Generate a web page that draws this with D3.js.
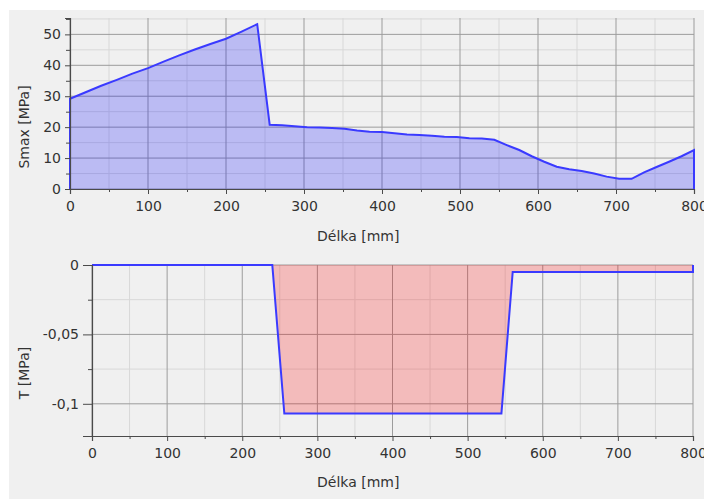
<!DOCTYPE html>
<html>
<head>
<meta charset="utf-8">
<script src="https://cdn.jsdelivr.net/npm/d3@7"></script>
<style>
  body { margin: 0; background: #fff; }
  text { font-family: "DejaVu Sans", sans-serif; font-size: 14px; fill: #333; }
</style>
</head>
<body>
<div id="chart"></div>
<script>
// Smax along the length
var smaxX = [0, 20, 40, 60, 80, 100, 120, 140, 160, 180, 200, 220, 240, 256, 272, 288, 304, 320, 336, 352,
  368, 384, 400, 416, 432, 448, 464, 480, 496, 512, 528, 544, 560, 576, 592, 608, 624, 640, 656, 672,
  688, 704, 720, 736, 752, 768, 784, 800];
var smaxY = [29.2, 31.3, 33.4, 35.3, 37.3, 39.1, 41.2, 43.2, 45.1, 46.9, 48.6, 50.9, 53.3, 20.8, 20.6, 20.3, 20.0, 19.9, 19.7, 19.5,
  18.9, 18.5, 18.4, 18.0, 17.6, 17.5, 17.2, 16.9, 16.8, 16.4, 16.3, 15.9, 14.2, 12.6, 10.6, 8.8, 7.2, 6.4, 5.8, 5.0,
  4.0, 3.3, 3.3, 5.4, 7.1, 8.8, 10.6, 12.6];

// T along the length
var tX = [0, 240, 256, 545, 560, 800];
var tY = [0, 0, -0.107, -0.107, -0.005, -0.005];

var xTicks = [0, 100, 200, 300, 400, 500, 600, 700, 800];
var xMinor = [50, 150, 250, 350, 450, 550, 650, 750];
var smaxTicks = [0, 10, 20, 30, 40, 50];
var smaxMinor = [5, 15, 25, 35, 45, 55];
var tTicks = [0, -0.05, -0.1];
var tTickLabels = ["0", "-0,05", "-0,1"];
var tMinor = [-0.025, -0.075];

var W = 704, H = 499;
var svg = d3.select("#chart").append("svg").attr("width", W).attr("height", H);
svg.append("rect").attr("x", 9).attr("y", 10).attr("width", W - 9).attr("height", H - 10).attr("fill", "#f0f0f0");

function panel(opt) {
  var x = d3.scaleLinear().domain([0, 800]).range([opt.left, opt.right]);
  var y = d3.scaleLinear().domain(opt.yDomain).range([opt.bottom, opt.top]);
  var g = svg.append("g");

  // gridlines
  g.selectAll(".vmin").data(opt.xMinor).enter().append("line")
    .attr("x1", d => x(d)).attr("x2", d => x(d)).attr("y1", opt.top).attr("y2", opt.bottom)
    .attr("stroke", "#d8d8d8").attr("stroke-width", 1);
  g.selectAll(".hmin").data(opt.yMinor).enter().append("line")
    .attr("x1", opt.left).attr("x2", opt.right).attr("y1", d => y(d)).attr("y2", d => y(d))
    .attr("stroke", "#d8d8d8").attr("stroke-width", 1);
  g.selectAll(".vmaj").data(opt.xTicks).enter().append("line")
    .attr("x1", d => x(d)).attr("x2", d => x(d)).attr("y1", opt.top).attr("y2", opt.bottom)
    .attr("stroke", "#9c9c9c").attr("stroke-width", 1);
  g.selectAll(".hmaj").data(opt.yTicks).enter().append("line")
    .attr("x1", opt.left).attr("x2", opt.right).attr("y1", d => y(d)).attr("y2", d => y(d))
    .attr("stroke", "#9c9c9c").attr("stroke-width", 1);

  // fill and line
  var pts = opt.xs.map((d, i) => [d, opt.ys[i]]);
  var area = d3.area().x(d => x(d[0])).y0(y(0)).y1(d => y(d[1]));
  g.append("path").datum(pts).attr("d", area).attr("fill", opt.fill).attr("fill-opacity", 0.22);
  var outline = [[opt.xs[0], 0]].concat(pts, [[opt.xs[opt.xs.length - 1], 0]]);
  var line = d3.line().x(d => x(d[0])).y(d => y(d[1]));
  g.append("path").datum(outline).attr("d", line).attr("fill", "none")
    .attr("stroke", "#3a3aff").attr("stroke-width", 2);

  // axes
  var ax = g.append("g").attr("transform", "translate(0," + opt.bottom + ")")
    .call(d3.axisBottom(x).tickValues(opt.xTicks).tickSize(5).tickPadding(9));
  g.append("g").attr("transform", "translate(0," + opt.bottom + ")")
    .call(d3.axisBottom(x).tickValues(opt.xMinor).tickSize(3).tickFormat(""))
    .select(".domain").remove();
  var ay = g.append("g").attr("transform", "translate(" + opt.left + ",0)")
    .call(d3.axisLeft(y).tickValues(opt.yTicks).tickSize(opt.yTickSize).tickPadding(4)
      .tickFormat((d, i) => opt.yLabels[i]));
  g.append("g").attr("transform", "translate(" + opt.left + ",0)")
    .call(d3.axisLeft(y).tickValues(opt.yMinor).tickSize(opt.yMinorSize).tickFormat(""))
    .select(".domain").remove();
  g.selectAll(".domain").attr("stroke", "#4a4a4a").attr("stroke-width", 1.2);
  g.selectAll(".tick line").attr("stroke", "#4a4a4a");
  g.selectAll(".tick text").style("font-family", "DejaVu Sans").style("font-size", "14px").attr("fill", "#333");
  ax.selectAll(".tick text").attr("dy", "0.55em");

  g.append("text").attr("x", 317).attr("y", opt.xTitleY).text("Délka [mm]");
  g.append("text").attr("transform", "translate(" + 29 + "," + opt.yTitleY + ") rotate(-90)")
    .attr("text-anchor", "middle").text(opt.yTitle);
}

panel({
  left: 70, right: 694, top: 18, bottom: 189,
  yDomain: [0, 55.3],
  xs: smaxX, ys: smaxY, fill: "#0000ff",
  xTicks: xTicks, xMinor: xMinor,
  yTicks: smaxTicks, yMinor: smaxMinor, yLabels: smaxTicks.map(String),
  yTickSize: 5, yMinorSize: 4,
  xTitleY: 241, yTitle: "Smax [MPa]", yTitleY: 127
});

panel({
  left: 92, right: 693, top: 265, bottom: 436,
  yDomain: [-0.1232, 0],
  xs: tX, ys: tY, fill: "#ff0000",
  xTicks: xTicks, xMinor: xMinor,
  yTicks: tTicks, yMinor: tMinor, yLabels: tTickLabels,
  yTickSize: 9, yMinorSize: 4,
  xTitleY: 487, yTitle: "T [MPa]", yTitleY: 373
});
</script>
</body>
</html>
